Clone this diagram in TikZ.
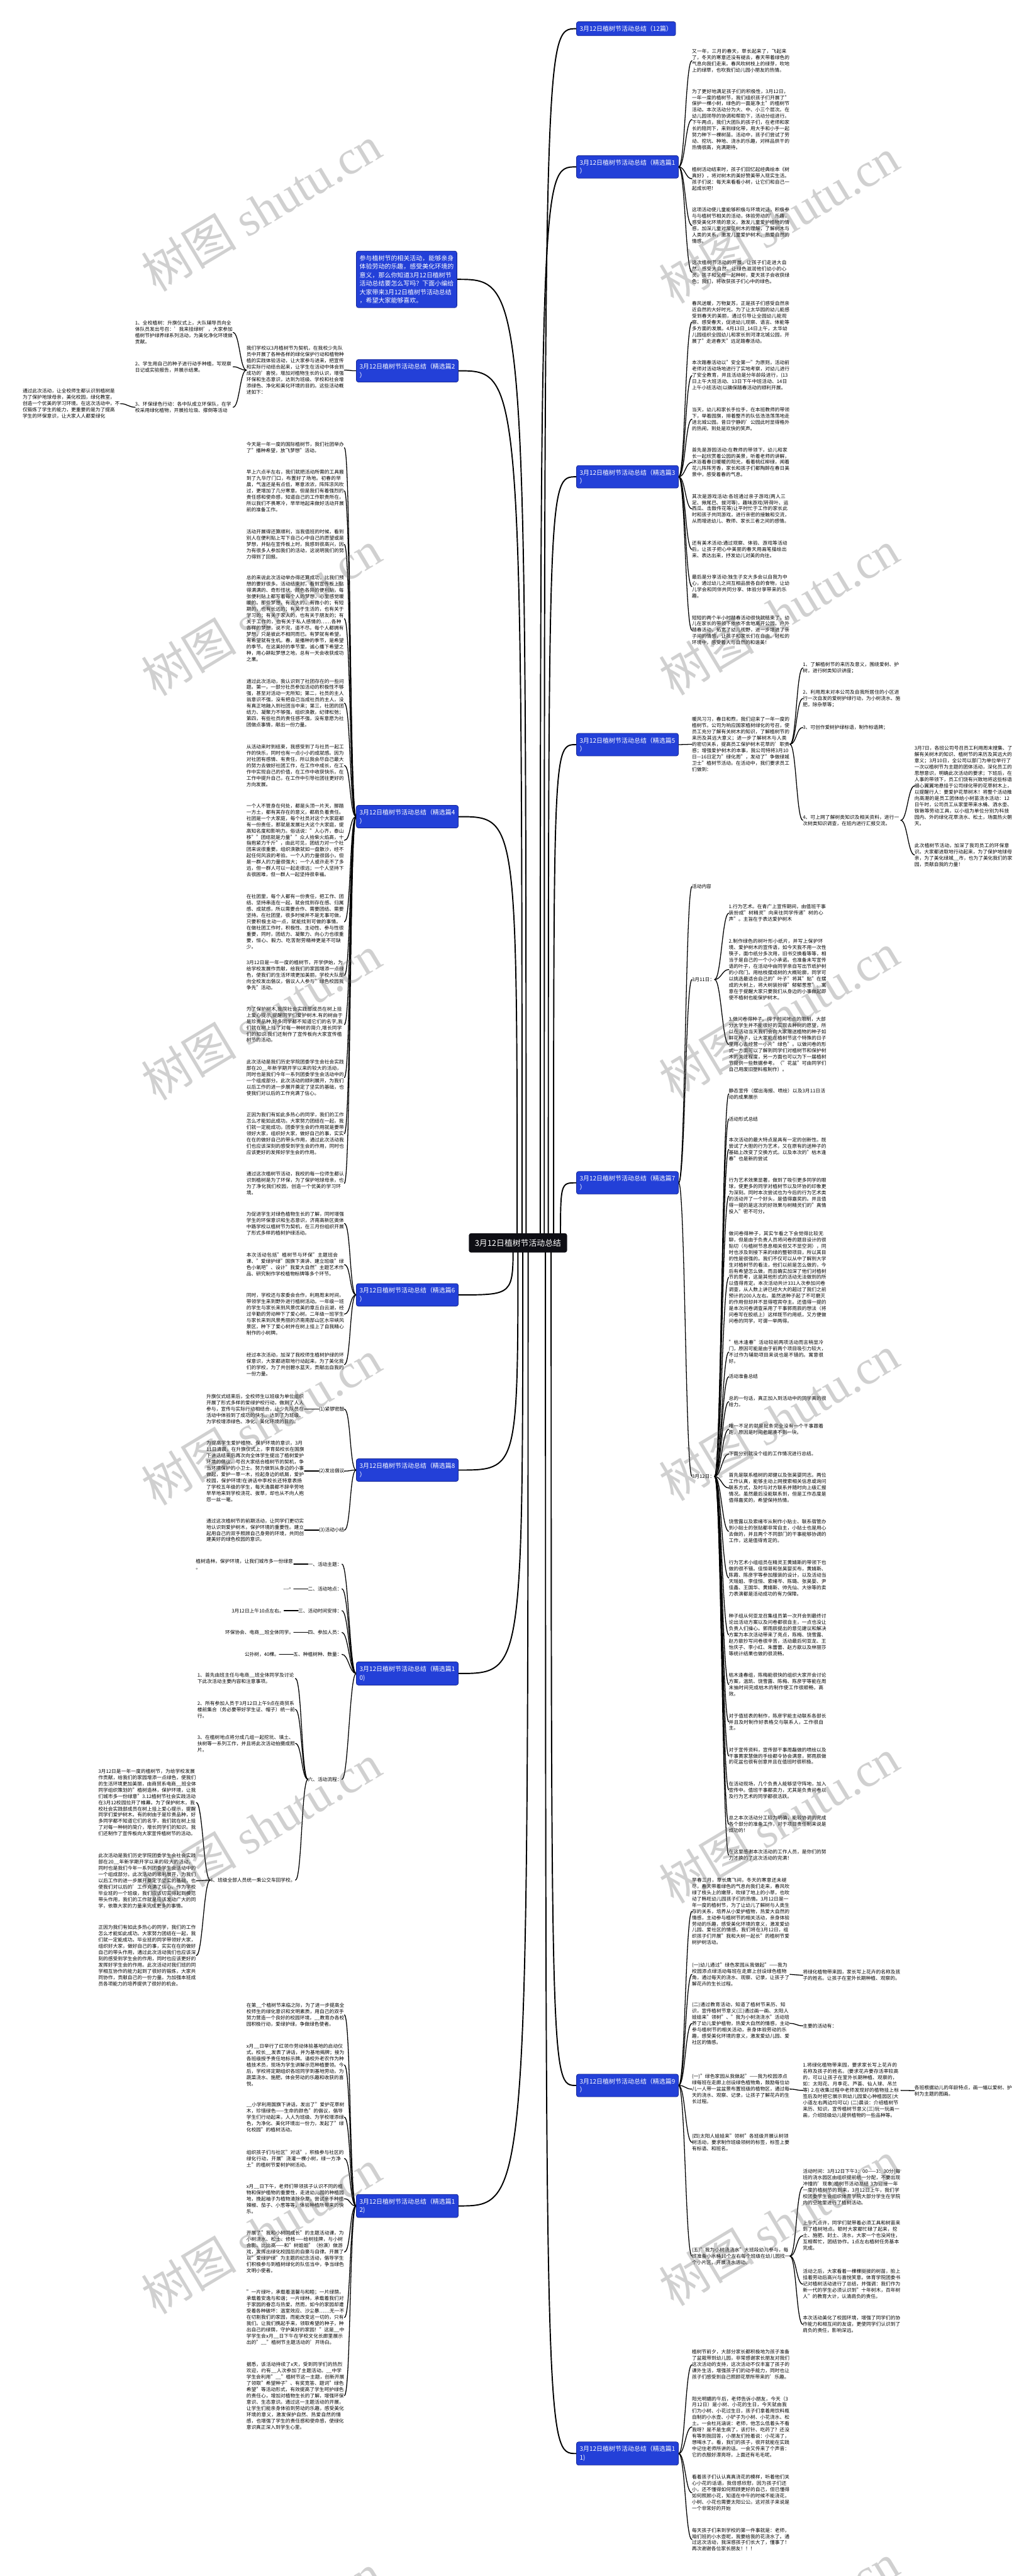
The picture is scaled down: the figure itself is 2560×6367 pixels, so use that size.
\documentclass[tikz,border=0pt]{standalone}
\usepackage{fontspec}
\setmainfont{Noto Sans CJK SC}
\newfontfamily\wmlatin{Liberation Serif}
\usetikzlibrary{backgrounds,calc}
\XeTeXlinebreaklocale "zh"
\XeTeXlinebreakskip=0pt plus 1pt
\definecolor{topicblue}{RGB}{35,64,216}
\definecolor{topicedge}{RGB}{22,40,150}
\definecolor{rootfill}{RGB}{14,14,20}
\tikzset{
  txt/.style={font=\fontsize{12pt}{15.5pt}\selectfont, text width=242pt, align=left, anchor=north west, inner sep=0pt, outer sep=0pt},
  lbl/.style={font=\fontsize{12pt}{15.5pt}\selectfont, inner sep=0pt, outer sep=0pt},
  topic/.style={draw=topicedge, fill=topicblue, text=white, rounded corners=5pt, line width=1.2pt,
    font=\fontsize{15.5pt}{21pt}\selectfont, inner xsep=8pt, inner ysep=10pt, align=left, anchor=north west},
  rootnode/.style={draw=rootfill, fill=rootfill, text=white, rounded corners=5pt,
    font=\fontsize{20pt}{24pt}\selectfont, minimum width=242pt, minimum height=47pt, inner sep=0pt},
  mainlink/.style={line width=3pt, line cap=round},
  sublink/.style={line width=2pt, line cap=round},
  wm/.style={rotate=31, font=\fontsize{118pt}{118pt}\selectfont, text=black!60, text opacity=0.3, inner sep=0pt}
}
\newcommand\linkR[2]{\draw[sublink] (#1.east) .. controls +(16,0) and +(-16,0) .. (#2.west);}
\newcommand\linkL[2]{\draw[sublink] (#1.west) .. controls +(-16,0) and +(16,0) .. (#2.east);}
\newcommand\mainR[2]{\draw[mainlink] (#1) .. controls (#1 |- #2.west) .. (#2.west);}
\newcommand\mainL[2]{\draw[mainlink] (#1) .. controls (#1 |- #2.east) .. (#2.east);}
\begin{document}
\begin{tikzpicture}[x=1pt,y=-1pt]
\useasboundingbox (0,0) rectangle (2560,6367);
\begin{scope}[on background layer]
\fill[white] (0,0) rectangle (2560,6367);
\end{scope}

% ---------- root ----------
\node[rootnode] (C) at (1280,3072) {3月12日植树节活动总结};

% ---------- right topics ----------
\node[topic] (R0) at (1424,53) {3月12日植树节活动总结（12篇）};
\node[topic] (R1) at (1424,384) {3月12日植树节活动总结（精选篇1\\）};
\node[topic] (R3) at (1424,1150) {3月12日植树节活动总结（精选篇3\\）};
\node[topic] (R5) at (1424,1812) {3月12日植树节活动总结（精选篇5\\）};
\node[topic] (R7) at (1424,2895) {3月12日植树节活动总结（精选篇7\\）};
\node[topic] (R9) at (1424,5126) {3月12日植树节活动总结（精选篇9\\）};
\node[topic] (R11) at (1424,6035) {3月12日植树节活动总结（精选篇1\\1)};

% ---------- left topics ----------
\node[topic] (L0) at (880,620) {参与植树节的相关活动，能够亲身\\体验劳动的乐趣，感受美化环境的\\意义，那么你知道3月12日植树节\\活动总结要怎么写吗？下面小编给\\大家带来3月12日植树节活动总结\\，希望大家能够喜欢。};
\node[topic] (L2) at (880,888) {3月12日植树节活动总结（精选篇2\\）};
\node[topic] (L4) at (880,1990) {3月12日植树节活动总结（精选篇4\\）};
\node[topic] (L6) at (880,3172) {3月12日植树节活动总结（精选篇6\\）};
\node[topic] (L8) at (880,3605) {3月12日植树节活动总结（精选篇8\\）};
\node[topic] (L10) at (880,4107) {3月12日植树节活动总结（精选篇1\\0)};
\node[topic] (L12) at (880,5423) {3月12日植树节活动总结（精选篇1\\2)};

% ---------- R1 ----------
\node[txt] (R1a) at (1710,121) {又一年，三月的春天，草长起来了，飞起来了，冬天的寒意还没有褪去，春天带着绿色的气息向我们走来。春风吹树枝上的绿芽，吹地上的绿草，也吹我们幼儿园小朋友的热情。};
\node[txt] (R1b) at (1710,220) {为了更好地满足孩子们的积极性，3月12日，一年一度的植树节，我们组织孩子们开展了"保护一棵小树，绿色的一面是净土"的植树节活动。本次活动分为大、中、小三个层次。在幼儿园领导的协调和帮助下，活动分组进行。下午两点，我们大团队的孩子们，在老师和家长的陪同下，来到绿化带，用大手和小手一起努力种下一棵树苗。活动中，孩子们尝试了劳动、挖坑、种地、浇水的乐趣，对样品烘干的热情很高，充满期待。};
\node[txt] (R1c) at (1710,413) {植树活动结束时，孩子们回忆起经典绘本《树真好》，将对树木的美好赞美带入现实生活。孩子们说：每天来看看小树，让它们和自己一起成长吧！};
\node[txt] (R1d) at (1710,513) {这项活动使儿童能够积极与环境对话，积极参与与植树节相关的活动，体验劳动的'乐趣，感受美化环境的意义，激发儿童爱护植物的情感，加深儿童对常见树木的理解，了解树木与人类的关系，激发儿童爱护树木、热爱自然的情感。};
\node[txt] (R1e) at (1710,644) {这次植树节活动的开展，让孩子们走进大自然，感受大自然，让绿色滋润他们幼小的心灵。孩子和父母一起种树，夏天孩子会收获绿色；我们，将收获孩子们心中的绿色。};

% ---------- R3 ----------
\node[txt] (R3a) at (1710,744) {春风送暖，万物复苏，正是孩子们感受自然亲近自然的大好时光。为了让太华园的幼儿能感受到春天的美丽，通过引导让全园幼儿能观察、感受春天，促进幼儿观察、语言、体能等多方面的发展。4月13日\_14日上午，太华幼儿园组织全园幼儿和家长到河津北城公园，开展了"走进春天"远足踏春活动。};
\node[txt] (R3b) at (1710,891) {本次踏春活动以"安全第一"为原则，活动前老师对活动场地进行了实地考察，对幼儿进行了安全教育，并且活动是分年龄段进行，(13日上午大班活动、13日下午中班活动、14日上午小班活动)以确保踏春活动的顺利开展。};
\node[txt] (R3c) at (1710,1007) {当天，幼儿和家长手拉手，在本班教师的带领下，举着园旗，排着整齐的队伍浩浩荡荡地走进北城公园。昔日宁静的'公园此时显得格外的热闹，到处是欢快的笑声。};
\node[txt] (R3d) at (1710,1106) {首先是游园活动:在教师的带领下，幼儿和家长一起欣赏着公园的美景，听着老师的讲解，沐浴着春日暖暖的阳光，看着桃红柳绿，闻着花儿阵阵芳香，家长和孩子们都陶醉在春日美景中，感受着春的气息。};
\node[txt] (R3e) at (1710,1221) {其次是游戏活动:各班通过亲子游戏(两人三足、揪尾巴、拔河等)，趣味游戏(转荷叶、运西瓜、击鼓传花等)让平时忙于工作的家长此时和孩子共同游戏，进行亲密的接触和交流，从而增进幼儿、教师、家长三者之间的感情。};
\node[txt] (R3f) at (1710,1337) {还有美术活动:通过观察、体验、游戏等活动后，让孩子把心中美丽的春天用画笔描绘出来、表达出来，抒发幼儿对美的向往。};
\node[txt] (R3g) at (1710,1421) {最后是分享活动:独生子女大多会以自我为中心，通过幼儿之间互相品尝各自的食物，让幼儿学会和同伴共同分享、体验分享带来的乐趣。};
\node[txt] (R3h) at (1710,1521) {短短的两个半小时踏春活动很快就结束了，幼儿在家长的带领下依依不舍地离开公园。户外踏春活动，拓宽了幼儿视野，进一步增进了亲子间的情感，让孩子和家长们在自由、轻松的环境中，感受着人与自然的和谐美！};

% ---------- R5 ----------
\node[txt] (R5a) at (1710,1772) {暖风习习，春日和煦，我们迎来了一年一度的植树节。公司为响应国家植树绿化的号召，使员工充分了解有关树木的知识，了解植树节的来历及其远大意义；进一步了解树木与人类的密切关系，提高员工保护树木花草的'职责感；增强爱护树木的本事，我公司特将3月10日—16日定为"绿化周"，发动了"争做绿城卫士"植树节活动。在活动中，我们要求员工们做到：};
\node[txt] (R5a1) at (1984,1637) {1、了解植树节的来历及意义，围绕爱树、护树，进行树类知识讲座；};
\node[txt] (R5a2) at (1984,1705) {2、利用周末对本公司及自我所居住的小区进行一次自发的爱树护绿行动，为小树浇水、施肥，除杂草等；};
\node[lbl,anchor=west] (R5a3) at (1984,1798) {3、可创作爱树护绿标语，制作标语牌；};
\node[txt] (R5a4) at (1984,2014) {4、可上网了解树类知识及相关资料，进行一次树类知识调查，在班内进行汇报交流。};
\node[txt] (R5a4a) at (2260,1844) {3月7日，各班公司号召员工利用周末搜集、了解有关树木的知识、植树节的来历及其远大的意义；3月10日，全公司以部门为单位举行了一次以植树节为主题的团体活动，深化员工的思想意识，明确此次活动的要求；下班后，在人事的带领下，员工们饶有兴致地将这些标语细心翼翼地悬挂于公司绿化带的花草树木上，以提醒行人：要爱护花草树木！将整个活动推向高潮的是员工团体给小树苗浇水活动：12日午时，公司员工从家里带来水桶、洒水壶、铁锹等劳动工具，以小组为单位分别为科技园内、外的绿化花草浇水、松土，场面热火朝天。};
\node[txt] (R5a4b) at (2260,2084) {此次植树节活动，加深了我司员工的环保意识。大家都进取地行动起来，为了保护地球母亲，为了美化绿城\_\_市，也为了美化我们的家园，贡献自我的力量！};

% ---------- R7 ----------
\node[lbl,anchor=west] (R7a) at (1710,2191) {活动内容};
\node[lbl,anchor=west] (R7b) at (1710,2421) {3月11日：};
\node[lbl,anchor=west] (R7c) at (1710,3649) {3月12日：};
\node[txt] (R7b1) at (1801,2236) {1.行为艺术。在青广上宣传期间，由值班干事装扮成"树精灵"向来往同学传递"树的心声"。主旨在于表达爱护树木};
\node[txt] (R7b2) at (1801,2321) {2.制作绿色的树叶形小纸片，并写上保护环境、爱护树木的宣传语，如今天我不用一次性筷子，面巾纸分多次用，旧书交换看等等，相当于是自己的一个小小承诺。也准备未写宣传语的叶子，在活动中由同学亲自写出节纸护树的小窍门。用枯枝摆成树的大概轮廓，同学可以挑选最适合自己的"叶子"将其"贴"在摆成的大树上，将大树装扮得"郁郁葱葱"。寓意在于提醒大家只要我们从身边的小事做起即使不植树也能保护树木。};
\node[txt] (R7b3) at (1801,2514) {3.做问卷得种子。碍于时间地点的限制，大部分大学生并不能很好的实现去种树的愿望，所以在活动当天我们会向大家赠送植物的种子如鲜花种子，让大家能在植树节这个特殊的日子里用心去经营一小片"绿色"。以做问卷的形式一方面可以了解到同学们对植树节和保护树木的关注程度，另一方面也可以为下一届植树节提供一些数据参考。（"花盆"可由同学们自己用废旧塑料瓶制作）。};
\node[txt] (R7c1) at (1801,2690) {静态宣传（摆出海报、喷绘）以及3月11日活动的成果展示};
\node[txt] (R7c2) at (1801,2760) {活动形式总结};
\node[txt] (R7c3) at (1801,2812) {本次活动的最大特点是具有一定的创新性。既尝试了大胆的行为艺术，又在原有的送种子的基础上改变了交换方式。以及本次的"枯木逢春"也是新的尝试};
\node[txt] (R7c4) at (1801,2912) {行为艺术效果显著，做到了吸引更多同学的眼球，使更多的同学对植树节以及环协的印象更为深刻。同时本次尝试也为今后的行为艺术类的活动开了一个好头，是值得嘉奖的。并且值得一提的是这次的好效果与树精灵们的"真情投入"密不可分。};
\node[txt] (R7c5) at (1801,3043) {做问卷得种子，其实乍看之下会觉得比较无聊，但是由于负责人员将问卷的题目设计的很贴切（与植树节息息相关但又不显空洞），同时也涉及到接下来的绿的整顿项目，所以其目的性是很强的。我们不仅可以从中了解到大学生对植树节的看法，他们以前是怎么做的，今后有希望怎么做，而且确实加深了他们对植树节的思考，这是其他形式的活动无法做到的所以值得肯定。本次活动共计331人次参加问卷调查，从人数上讲已经大大的超过了我们之前预计的200人左右。虽然送种子起了不可磨灭的作用但却并不显得喧宾夺主。还值得一提的是本次问卷调查采用了干事郭雨辰的想法（将问卷写在胶纸上）这样既节约用纸，又方便做问卷的同学，可谓一举两得。};
\node[txt] (R7c6) at (1801,3313) {"枯木逢春"活动较前两项活动而言稍显冷门，原因可能是由于前两个项目吸引力较大，不过作为辅助项目来说也是不错的。寓意很好。};
\node[txt] (R7c7) at (1801,3397) {活动准备总结};
\node[txt] (R7c8) at (1801,3451) {总的一句话，真正加入到活动中的同学真的很给力。};
\node[txt] (R7c9) at (1801,3519) {唯一不足的就是批条完全没有一个干事跟着跑，原因是时间老是凑不到一块。};
\node[txt] (R7c10) at (1801,3588) {下面分别就没个组的工作情况进行总结。};
\node[txt] (R7c11) at (1801,3641) {首先是联系植树的郑健以及张昊婴同志。两位工作认真，能够主动上网搜索相关信息或询问联系方式，及时与对方联系并随时向上级汇报情况。虽然最后没能联系到，但是工作态度是值得嘉奖的，希望保持热情。};
\node[txt] (R7c12) at (1801,3756) {饶雪露以及索绪岑从制作小贴士、联系宿管办到小贴士的张贴都非常自主，小贴士也是用心去做的，并且两个不同部门的干事能够协调的工作，这是值得肯定的。};
\node[txt] (R7c13) at (1801,3856) {行为艺术小组组员在精灵王黄婧斯的带领下也做的很不错。佳恒哥和张昊婴买布，黄婧斯、陈霞、陈彦宇等参加服装的设计，以及活动当天瑶姐、李佳恒、索绪岑、陈璐、张昊婴、尹佳鑫、王国华、黄婧斯、帅先仙、大徐等的卖力表演都是活动成功的有力保障。};
\node[txt] (R7c14) at (1801,3989) {种子组从何亚龙召集组员第一次开会到最终讨论出活动方案以及问卷都很自主，一点也没让负责人们操心。郭雨辰提出的意见建议和解决方案为本次活动带来了亮点，陈梅、饶雪露、赵方歆抄写问卷很辛苦，活动最后何亚龙、王怡庆子、李小红、朱蕾蕾、赵方歆以及林丽莎等统计结果也做的很流畅。};
\node[txt] (R7c15) at (1801,4135) {枯木逢春组，陈梅能很快的组织大家开会讨论方案，温凯、饶雪露、陈梅、陈彦宇等能在周末抽时间完成枯木的制作使工作很顺畅，高效。};
\node[txt] (R7c16) at (1801,4235) {对于值班表的制作，陈彦宇能主动联系各部长并且及时制作好表格交与联系人，工作很自主。};
\node[txt] (R7c17) at (1801,4319) {对于宣传资料，宣传部干事周磊做的喷绘以及干事黄家慧做的手绘都令协会满意，郭雨辰做的花盆也很有创意并且在值班时很积极。};
\node[txt] (R7c18) at (1801,4403) {在活动现场，几个负责人能够坚守阵地，加入宣传中。值班干事都卖力，尤其是负责问卷以及行为艺术的同学都很活跃。};
\node[txt] (R7c19) at (1801,4488) {总之本次活动分工较为明确，能较协调的完成各个部分的准备工作，对于项目责任制来说是成功的！};
\node[txt] (R7c20) at (1801,4572) {在这里感谢本次活动的工作人员，是你们的努力才换的了这次活动的完满！};

% ---------- R9 ----------
\node[txt] (R9a) at (1710,4641) {早春三月，草长鹰飞间，冬天的寒意还未褪尽，春天带着绿色的气息向我们走来，春风吹绿了枝头上的嫩芽，吹绿了地上的小草，也吹动了韩旺幼儿园孩子们的热情。3月12日是一年一度的植树节，为了让幼儿了解树与人类生存的关系，培养从小爱护植物，热爱大自然的情感，主动参与植树节的相关活动，亲身体验劳动的乐趣，感受美化环境的意义，激发爱幼儿园、爱社区的情感，我们将在3月12日，组织孩子们开展"我和大树一起长"的植树节爱树护树活动。};
\node[txt] (R9b) at (1710,4851) {(一)幼儿通过"绿色家园从我做起"——我为校园添点绿活动每班在走廊上创设绿色植物角，通过每天的浇水、观察、记录，让孩子了解花卉的生长过程。};
\node[txt] (R9b1) at (1984,4869) {将绿化植物带来园，家长写上花卉的名称及孩子的姓名。让孩子在室外长期种植、观察的。};
\node[txt] (R9c) at (1710,4949) {(二)通过教育活动，知道了植树节来历、知识，宣传植树节意义(三)通过画一画、太阳人娃娃来"领树"、"我为小树浇浇水"活动培养了幼儿爱护植物，热爱大自然的情感，主动参与植树节的相关活动，亲身体验劳动的乐趣，感受美化环境的意义，激发爱幼儿园、爱社区的情感。};
\node[lbl,anchor=west] (R9c1) at (1984,5007) {主要的活动有：};
\node[txt] (R9d) at (1710,5127) {(一)"绿色家园从我做起"——我为校园添点绿每班在走廊上创设绿色植物角，鼓励每位幼儿一人带一盆盆景布置班级的植物区，通过每天的浇水、观察、记录，让孩子了解花卉的生长过程。};
\node[txt] (R9d1) at (1984,5099) {1.将绿化植物带来园，要求家长写上花卉的名称及孩子的姓名。(要求花卉要存活率较高的，可以让孩子在室外长期种植、观察的，如：太阳花、月季花、芦荟、仙人球、吊兰等) 2.在收集过程中老师发现好的植物挂上标签后及时把它展示到幼儿园爱心种植园区(大小道左右两边均可以) (二)晨谈：介绍植树节来历、知识，宣传植树节意义(三)玩一玩画一画，介绍班级幼儿提供植物的一些品种等。};
\node[txt] (R9d1a) at (2260,5154) {各班根据幼儿的年龄特点，画一幅以爱树、护树为主题的图画。};
\node[txt] (R9e) at (1710,5274) {(四)太阳人娃娃来"领树"各班级开展认树领树活动，要求制作班级领树的标签，标签上要有标语、和班名。};
\node[txt] (R9f) at (1710,5555) {(五)"我为小树浇浇水"大班段幼儿参与，每班准备小水桶10个左右每个班级在幼儿园找一个小片区，开展浇水活动。};
\node[txt] (R9f1) at (1984,5361) {活动时间：3月12日下午3：00——3：30分(每班的浇水园区由组织提前统一分配，不要出现冲撞的'现象)植树节活动总结 3为迎接一年一度的植树节的到来，3月12日上午，我们学校团委学生会组织体育学院大部分学生在学院内的空地里进行了植树活动。};
\node[txt] (R9f2) at (1984,5489) {上午九点许，同学们就带着必须工具和树苗来到了植树地点。顿时大家都忙碌了起来，挖土、施肥、封土、浇水，大家一个也没闲住，互相帮忙，团结协作。1点左右植树任务基本完成。};
\node[txt] (R9f3) at (1984,5609) {活动之后，大家看着一棵棵挺拔的树苗，脸上挂着劳动后高兴与喜悦笑意。体育学院团委书记对植树活动进行了总结，并强调：我们作为新一代的学生必须认识到"十年树木，百年树人"的教育大计，认清肩负的责任。};
\node[txt] (R9f4) at (1984,5724) {本次活动美化了校园环境，增强了同学们的协作能力和相互间的友谊，更使同学们认识到了肩负的责任，影响深远。};

% ---------- R11 ----------
\node[txt] (R11a) at (1710,5808) {植树节前夕，大部分家长都积极地为孩子准备了盆栽带到幼儿园，非常感谢家长朋友对我们这次活动的支持，这次活动不仅丰富了孩子的课外生活，增强孩子们的动手能力，同时也让孩子们感受到自己照顾花草所带来的'乐趣。};
\node[txt] (R11b) at (1710,5923) {阳光明媚的午后，老师告诉小朋友，今天（3月12日）是小树、小花的生日，今天就由我们为小树、小花过生日，孩子们拿着用饮料瓶自制的小水壶、小铲子为小树、小花浇水、松土。一会杜兆涵说：老师，他怎么低着头不看我呀？是不是生病了，该打针、吃药了？还没有等到我回答，小朋友们抢着说：小花渴了，想喝水了。看，我们的孩子，很开就能在实践中记住老师所讲的话。一会又传来了个声音：它的衣服好漂亮呀，上面还有毛毛呢。};
\node[txt] (R11c) at (1710,6117) {看着孩子们认认真真浇花的模样，听着他们关心小花的话语，我倍感欣慰，因为孩子们还小，还不懂得如何照顾更好的自己，但已懂得如何照顾小花，知道在中午的时候不能浇花，小树、小花也需要太阳公公。这对孩子来说是一个非常好的开始};
\node[txt] (R11d) at (1710,6248) {每天孩子们来到学校的第一件事就是：老师，咱们班的小水壶呢，我要给我的花浇水了。通过这次活动，我深感孩子们长大了，懂事了！再次谢谢各位家长朋友！！！};

% ---------- L2 ----------
\node[txt] (L2a) at (609,855) {我们学校以3月植树节为契机，在我校少先队员中开展了各种各样的绿化保护行动和植物种植的实践体验活动，让大家参与进来，把宣传和实际行动结合起来，让学生在活动中体会到成功的'喜悦，增加对植物生长的认识，增强环保和生态意识，达到为班级、学校和社会增添绿色、净化和美化环境的目的。这些活动概述如下：};
\node[txt] (L2a1) at (334,793) {1、全校植树：升旗仪式上，大队辅导员向全体队员发出号召：'我来挂绿树'，大家参加植树节护绿养绿系列活动，为美化净化环境做贡献。};
\node[txt] (L2a2) at (334,893) {2、学生用自己的种子进行动手种植，写观察日记或实验报告，并展示结果。};
\node[txt] (L2a3) at (334,993) {3、环保绿色行动：各中队成立环保队，在学校采用绿化植物，开展捡垃圾、撑倒等活动};
\node[txt] (L2a3a) at (56,961) {通过此次活动，让全校师生都认识到植树是\\为了保护地球母亲，美化校园，绿化教室，\\创造一个优美的学习环境。在这次活动中，不\\仅锻炼了学生的能力，更重要的是为了提高\\学生的环保意识，让大家人人都爱绿化};

% ---------- L4 ----------
\node[txt] (L4a) at (609,1093) {今天是一年一度的国际植树节，我们社团举办了"播种希望，放飞梦想"活动。};
\node[txt] (L4b) at (609,1161) {早上六点半左右，我们就把活动所需的工具搬到了九华厅门口，布置好了场地。初春的早晨，气温还是有点低，寒意浓浓，阵阵凉风吹过，更增加了几分寒意。但是我们有着强烈的责任感和使命感，知道自己的工作职责所在，所以我们不畏寒冷，早早地起来做好活动开展前的准备工作。};
\node[txt] (L4c) at (609,1309) {活动开展得还算顺利，当我值班的时候，看到别人在便利贴上写下自己心中自己的愿望或是梦想，并贴在宣传板上时，我感到很高兴，因为有很多人参加我们的活动，这说明我们的努力得到了回报。};
\node[txt] (L4d) at (609,1423) {总的来说此次活动举办得还算成功，比我们预想的要好很多。活动结束时，看到宣传板上贴得满满的、奇形怪状、颜色各异的便利贴，每张便利贴上都写着每个人的梦想，心里感觉暖暖的。那些梦想，有远大的，有微小的；有短期的，也有长远的；有关于生活的，也有关于学习的；有关于家人的，也有关于朋友的；有关于工作的，也有关于私人感情的……各种各样的梦想，说不完，道不尽。每个人都拥有梦想，只是彼此不相同而已。有梦就有希望，有希望就有生机。春，是播种的季节，是希望的季节。在这美好的季节里，诚心播下希望之种，用心耕耘梦想之地，总有一天会收获成功之果。};
\node[txt] (L4e) at (609,1678) {通过此次活动，我认识到了社团存在的一些问题。第一，一部分社员参加活动的积极性不够强，甚至对活动一无所知；第二，社员的主人翁意识不强，没有把自己当成社员的主人，没有真正地融入到社团当中来；第三，社团的团结力、凝聚力不够强，组织涣散，纪律松弛；第四，有些社员的责任感不强，没有意愿为社团做点事情，献出一份力量。};
\node[txt] (L4f) at (609,1840) {从活动来时到结束，我感受到了与社员一起工作的快乐，同时也有一点小小的成就感。因为对社团有感情、有责任，所以我会尽自己最大的努力去做好社团工作，在工作中成长，在工作中实现自己的价值，在工作中收获快乐，在工作中提升自己，在工作中引导社团往更好的方向发展。};
\node[txt] (L4g) at (609,1986) {一个人不管身在何处，都是头顶一片天，脚踏一方土，都有其存在的意义，都肩负着责任。社团是一个大家庭，每个社员对这个大家庭都有一份责任，那就是发展壮大这个大家庭，提高知名度和影响力。俗话说："人心齐，泰山移""团结就是力量""众人拾柴火焰高，十指抱紧力千斤"，由此可见，团结力对一个社团来说很重要。组织涣散就如一盘散沙，经不起任何风浪的考验。一个人的力量很弱小，但是一群人的力量很强大；一个人或许走不了多远，但一群人可以一起走很远；一个人坚持下去很困难，但一群人一起坚持很幸福。};
\node[txt] (L4h) at (609,2211) {在社团里，每个人都有一份责任，把工作、团结、坚持串连在一起，就会找到存在感、归属感、成就感，所以需要合作、需要团结、需要坚持。在社团里，很多时候并不是无事可做，只要积极主动一点，就能找到可做的事情。在做社团工作时，积极性、主动性、参与性很重要，同时，团结力、凝聚力、向心力也很重要，恒心、毅力、吃苦耐劳精神更是不可缺少。};
\node[txt] (L4i) at (609,2374) {3月12日是一年一度的植树节，开学伊始，为给学校发展作贡献，给我们的家园增添一点绿色，使我们的生活环境更加美丽，学校大队部向全校发出倡议，倡议人人参与"绿色校园我争先"活动。};
\node[txt] (L4j) at (609,2488) {为了保护树木,我院社会实践部成员在树上挂上爱心提示,提醒同学们爱护树木.有的树由于是珍贵品种,好多同学都不知道它们的名字,我们就在树上挂了对每一种树的简介,增长同学们的知识.我们还制作了宣传板向大家宣传植树节的活动。};
\node[txt] (L4k) at (609,2619) {此次活动是我们历史学院团委学生会社会实践部在20\_\_年新学期开学以来的较大的活动，同时也是我们今年一系列团委学生会活动中的一个组成部分。此次活动的顺利展开，为我们以后工作的进一步展开奠定了坚实的基础，也使我们对以后的工作充满了信心。};
\node[txt] (L4l) at (609,2750) {正因为我们有如此多热心的同学，我们的工作怎么才能如此成功。大家努力团结在一起，我们就一定能成功。团委学生会的作用就是要带领好大家，组织好大家，做好自己的事，实实在在的做好自己的带头作用，通过此次活动我们也应该深刻的感受到学生会的作用，同时也应该更好的发挥好学生会的作用。};
\node[txt] (L4m) at (609,2896) {通过这次植树节活动，我校的每一位师生都认识到植树是为了环保，为了保护地球母亲，也为了净化我们校园，创造一个优美的学习环境。};

% ---------- L6 ----------
\node[txt] (L6a) at (609,2995) {为促进学生对绿色植物生长的了解，同时增强学生的环保意识和生态意识，济南高新区奥体中路学校以植树节为契机，在三月份组织开展了形式多样的植树护绿活动。};
\node[txt] (L6b) at (609,3097) {本次活动包括"植树节与环保"主题班会课、"爱绿护绿"国旗下演讲、建立班级"绿色小氧吧"、设计"我爱大自然"主题艺术作品、研究制作学校植物标牌等多个环节。};
\node[txt] (L6c) at (609,3196) {同时，学校还与家委会合作，利用周末时间，带领学生来到野外进行植树活动。一年级一班的学生与家长来到风景优美的章丘白云湖，经过辛勤的劳动种下了爱心树。二年级一班学生与家长来到风景秀丽的济南南部山区水帘峡风景区，种下了爱心树并在树上挂上了自我精心制作的小树牌。};
\node[txt] (L6d) at (609,3344) {经过本次活动，加深了我校师生植树护绿的环保意识，大家都进取地行动起来，为了美化我们的学校，为了共创碧水蓝天，贡献出自我的一份力量。};

% ---------- L8 ----------
\node[lbl,anchor=east] (L8a) at (851,3483) {(1)紧锣密鼓};
\node[lbl,anchor=east] (L8b) at (851,3636) {(2)发出倡议};
\node[lbl,anchor=east] (L8c) at (851,3782) {(3)活动小结};
\node[txt,anchor=east] (L8a1) at ($(L8a.west)+(-36,0)$) {升旗仪式结束后，全校师生以班级为单位组织开展了形式多样的爱绿护校行动，做到了人人参与，宣传与实际行动相结合，让少先队员在活动中体验到了成功的快乐，达到了为班级、为学校增添绿色、净化、美化环境的目的。};
\node[txt,anchor=east] (L8b1) at ($(L8b.west)+(-36,0)$) {为提高学生爱护植物、保护环境的意识，3月11日清晨，在升旗仪式上，李育茹校长在国旗下讲话结束后再次向全体学生提出了植树爱护环境的倡议，号召大家结合植树节的契机，争当环境保护的小卫士。努力做到从身边的小事做起，爱护一草一木，捡起身边的纸屑，爱护校园，保护环境!在讲话中李校长还特意表扬了学校五年级的学生，每天清晨都不辞辛劳地早早地来到学校浇花、拔草，却也从不向人抱怨一丝一毫。};
\node[txt,anchor=east] (L8c1) at ($(L8c.west)+(-36,0)$) {通过这次植树节的前期活动，让同学们更切实地认识到爱护树木，保护环境的重要性。建立起用自己的双手照顾自己身旁的环境，共同创建美好的绿色校园的意识。};

% ---------- L10 ----------
\node[lbl,anchor=east] (L10a) at (845,3866) {一、活动主题：};
\node[lbl,anchor=east] (L10b) at (845,3927) {二、活动地点：};
\node[lbl,anchor=east] (L10c) at (845,3981) {三、活动时间安排：};
\node[lbl,anchor=east] (L10d) at (845,4035) {四、参加人员：};
\node[lbl,anchor=east] (L10e) at (845,4089) {五、种植树种、数量：};
\node[lbl,anchor=east] (L10f) at (845,4398) {六、活动流程：};
\node[txt,anchor=east] (L10a1) at ($(L10a.west)+(-35,0)$) {植树造林，保护环境，让我们城市多一份绿意\\。};
\node[lbl,anchor=east] (L10b1) at ($(L10b.west)+(-35,0)$) {\_\_。};
\node[lbl,anchor=east] (L10c1) at ($(L10c.west)+(-35,0)$) {3月12日上午10点左右。};
\node[lbl,anchor=east] (L10d1) at ($(L10d.west)+(-35,0)$) {环保协会、电商\_\_班全体同学。};
\node[lbl,anchor=east] (L10e1) at ($(L10e.west)+(-35,0)$) {公孙树，40棵。};
\node[txt] (L10f1) at (488,4135) {1、首先由班主任与电商\_\_班全体同学及讨论下此次活动主要内容和注意事项。};
\node[txt] (L10f2) at (488,4204) {2、所有参加人员于3月12日上午9点在商贸系楼前集合（务必要带好学生证、帽子）统一前行。};
\node[txt] (L10f3) at (488,4288) {3、在植树地点将分成几组一起挖坑、填土、扶树等一系列工作，并且将此次活动拍摄成照片。};
\node[lbl,anchor=east] (L10f4) at (730,4647) {4、班级全部人员统一乘公交车回学校。};
\node[txt] (L10g1) at (243,4372) {3月12日是一年一度的植树节，为给学校发展作贡献，给我们的家园增添一点绿色，使我们的生活环境更加美丽，由商贸系电商\_\_班全体同学组织策划的"植树造林，保护环境，让我们城市多一份绿意"3.12植树节社会实践活动在3月12校园拉开了帷幕。为了保护树木，我校社会实践部成员在树上挂上爱心提示，提醒同学们爱护树木。有的树由于是珍贵品种，好多同学都不知道它们的名字，我们就在树上挂了对每一种树的简介，增长同学们的知识。我们还制作了宣传板向大家宣传植树节的活动。};
\node[txt] (L10g2) at (243,4581) {此次活动是我们历史学院团委学生会社会实践部在20\_\_年新学期开学以来的较大的活动，同时也是我们今年一系列团委学生会活动中的一个组成部分。此次活动的顺利展开，为我们以后工作的进一步展开奠定了坚实的基础，也使我们对以后的'工作充满了信心。作为学校毕业班的一个班级，我们应该切实得起到模范带头作用，我们的工作就是应该发动广大的同学，依靠大家的力量来完成更多的事情。};
\node[txt] (L10g3) at (243,4758) {正因为我们有如此多热心的同学，我们的工作怎么才能如此成功。大家努力团结在一起，我们就一定能成功。毕业班的同学带领好大家，组织好大家，做好自己的事，实实在在的做好自己的带头作用，通过此次活动我们也应该深刻的感受到学生会的作用，同时也应该更好的发挥好学生会的作用。此次活动对我们班的同学相互协作的能力起到了很好的锻炼，大家共同协作，贡献自己的一份力量。为加强本班成员各项能力的培养提供了很好的机会。};

% ---------- L12 ----------
\node[txt] (L12a) at (609,4951) {在第\_\_个植树节来临之际，为了进一步提高全校师生的绿化意识和文明素质，用自己的双手努力营造一个良好的校园环境，\_\_教育办各校园积极行动，爱绿护绿，争做绿色使者。};
\node[txt] (L12b) at (609,5052) {x月\_\_日举行了红领巾劳动体验基地的启动仪式。校长\_\_发表了讲话，并为基地揭牌；接为各班级授予责任地标示牌。请校外老农作为种植技术员，现场为学生讲解示范种植要领。今后，学校将定期组织各班同学到基地劳动，为蔬菜浇水、施肥，体会劳动的乐趣和收获的喜悦。};
\node[txt] (L12c) at (609,5196) {\_\_小学利用国旗下讲话，发出了"爱护花草树木，珍惜绿色——生命的颜色"的倡议，倡导学生们行动起来，人人为班级、为学校增添绿色，为净化、美化环境出一份力，发起了"绿化校园"的植树活动。};
\node[txt] (L12d) at (609,5314) {组织孩子们与社区"对话"，积极参与社区的绿化行动，开展"浇灌一棵小树，绿一方净土"的植树节爱树护树活动。};
\node[txt] (L12e) at (609,5398) {x月\_\_日下午，老师们带领孩子认识不同的植物和保护植物的重要性，走进幼儿园的种植园地，挽起袖子为植物清除杂草，尝试亲手种植辣椒、茄子、小葱等等，体验种植所带来的快乐。};
\node[txt] (L12f) at (609,5514) {开展了"我和小树同成长"的主题活动课，为小树浇水、松土、修枝——给树挂牌，与小树合影、比比高——和"树姐姐"（扮演）做游戏，发挥出绿化校园后的自豪与自律。开展了以"爱绿护绿"为主题的纪念活动，倡导学生们积极参与到植树绿化的队伍当中，争当绿色文明小使者。};
\node[txt] (L12g) at (609,5660) {"一片绿叶，承载着温馨与和睦；一片绿荫，承载着安逸与和谐；一片绿林，承载着我们对于家园的眷恋与热爱。然而，如今的家园却遭受着各种破坏：温室效应、沙尘暴……无一不在切割我们的家园，而能改变这一切的，只有我们。让我们携起手来，领取希望的种子，种出自己的绿荫，守护美好的家园！"这是\_\_中学学生会x月\_\_日下午在学校文化长廊里展示出的"\_\_"植树节主题活动的'开场白。};
\node[txt] (L12h) at (609,5838) {据悉，该活动持续了x天，受到同学们的热烈欢迎，约有\_\_人次参加了主题活动。\_\_中学学生会利用"\_\_"植树节这一主题，创新开展了领取"希望种子"、有奖竞答、题词"绿色希望"等活动形式，有效提高了学生呵护绿色的责任心，增加对植物生长的了解，增强环保意识、生态意识。通过这一主题活动的开展，让学生们能亲身体验到劳动的乐趣，感受美化环境的意义，激发保护自然、热爱自然的情感，也增强了学生的责任感和使命感，使绿化意识真正深入到学生心里。};

% ---------- connectors ----------
\coordinate (sR0) at (1345,3072);
\coordinate (sR1) at (1335,3072);
\coordinate (sR3) at (1355,3072);
\coordinate (sR5) at (1368,3072);
\coordinate (sR7) at (1385,3072);
\coordinate (sR9) at (1362,3072);
\coordinate (sR11) at (1348,3072);
\coordinate (sL0) at (1300,3072);
\coordinate (sL2) at (1290,3072);
\coordinate (sL4) at (1278,3072);
\coordinate (sL6) at (1268,3072);
\coordinate (sL8) at (1280,3072);
\coordinate (sL10) at (1292,3072);
\coordinate (sL12) at (1305,3072);
\begin{scope}[on background layer]
\mainR{sR0}{R0}\mainR{sR1}{R1}\mainR{sR3}{R3}\mainR{sR5}{R5}\mainR{sR7}{R7}\mainR{sR9}{R9}\mainR{sR11}{R11}
\mainL{sL0}{L0}\mainL{sL2}{L2}\mainL{sL4}{L4}\mainL{sL6}{L6}\mainL{sL8}{L8}\mainL{sL10}{L10}\mainL{sL12}{L12}
\foreach \c in {R1a,R1b,R1c,R1d,R1e}{\linkR{R1}{\c}}
\foreach \c in {R3a,R3b,R3c,R3d,R3e,R3f,R3g,R3h}{\linkR{R3}{\c}}
\linkR{R5}{R5a}
\foreach \c in {R5a1,R5a2,R5a3,R5a4}{\linkR{R5a}{\c}}
\linkR{R5a4}{R5a4a}\linkR{R5a4}{R5a4b}
\foreach \c in {R7a,R7b,R7c}{\linkR{R7}{\c}}
\foreach \c in {R7b1,R7b2,R7b3}{\linkR{R7b}{\c}}
\foreach \c in {R7c1,R7c2,R7c3,R7c4,R7c5,R7c6,R7c7,R7c8,R7c9,R7c10,R7c11,R7c12,R7c13,R7c14,R7c15,R7c16,R7c17,R7c18,R7c19,R7c20}{\linkR{R7c}{\c}}
\foreach \c in {R9a,R9b,R9c,R9d,R9e,R9f}{\linkR{R9}{\c}}
\linkR{R9b}{R9b1}\linkR{R9c}{R9c1}\linkR{R9d}{R9d1}\linkR{R9d1}{R9d1a}
\foreach \c in {R9f1,R9f2,R9f3,R9f4}{\linkR{R9f}{\c}}
\foreach \c in {R11a,R11b,R11c,R11d}{\linkR{R11}{\c}}
\linkL{L2}{L2a}
\foreach \c in {L2a1,L2a2,L2a3}{\linkL{L2a}{\c}}
\linkL{L2a3}{L2a3a}
\foreach \c in {L4a,L4b,L4c,L4d,L4e,L4f,L4g,L4h,L4i,L4j,L4k,L4l,L4m}{\linkL{L4}{\c}}
\foreach \c in {L6a,L6b,L6c,L6d}{\linkL{L6}{\c}}
\foreach \c in {L8a,L8b,L8c}{\linkL{L8}{\c}}
\linkL{L8a}{L8a1}\linkL{L8b}{L8b1}\linkL{L8c}{L8c1}
\foreach \c in {L10a,L10b,L10c,L10d,L10e,L10f}{\linkL{L10}{\c}}
\linkL{L10a}{L10a1}\linkL{L10b}{L10b1}\linkL{L10c}{L10c1}\linkL{L10d}{L10d1}\linkL{L10e}{L10e1}
\foreach \c in {L10f1,L10f2,L10f3,L10f4}{\linkL{L10f}{\c}}
\foreach \c in {L10g1,L10g2,L10g3}{\linkL{L10f4}{\c}}
\foreach \c in {L12a,L12b,L12c,L12d,L12e,L12f,L12g,L12h}{\linkL{L12}{\c}}
\end{scope}

% ---------- watermarks ----------
\foreach \yy in {515,1515,2515,3515,4515,5515,6515}{\node[wm] at (646,\yy) {树图 {\wmlatin shutu.cn}};}
\foreach \yy in {545,1514,2509,3505,4500,5495,6490}{\node[wm] at (1925,\yy) {树图 {\wmlatin shutu.cn}};}
\end{tikzpicture}
\end{document}
